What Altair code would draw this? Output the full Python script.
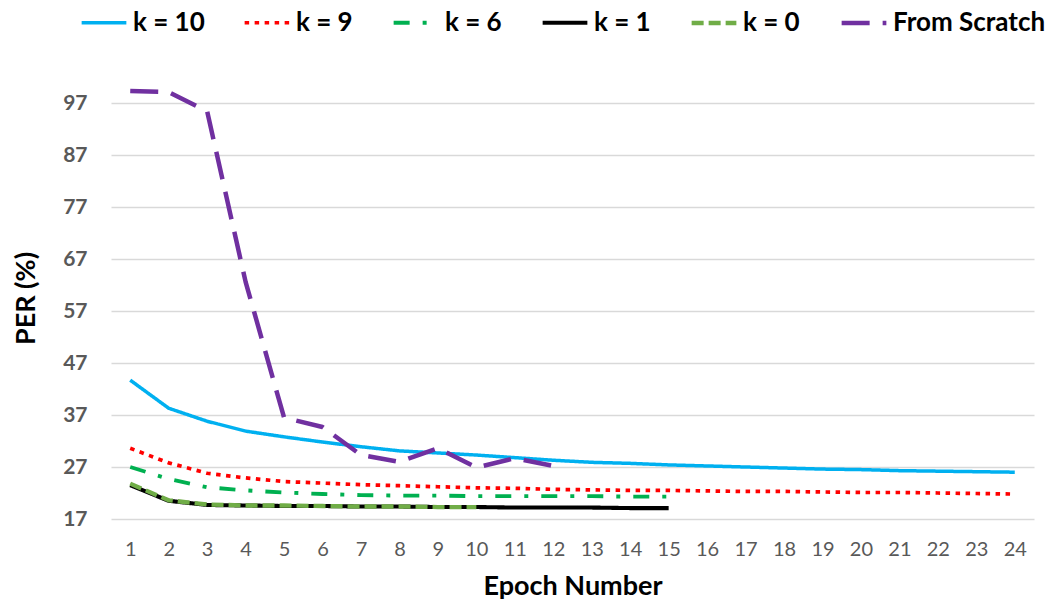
import altair as alt
import pandas as pd

epochs = list(range(1, 25))
series_names = ["k = 10", "k = 9", "k = 6", "k = 1", "k = 0", "From Scratch"]
k10 = [43.7, 38.3, 35.8, 33.9, 32.8, 31.8, 30.9, 30.1, 29.7, 29.3, 28.8, 28.3,
       27.9, 27.7, 27.4, 27.2, 27.0, 26.8, 26.6, 26.5, 26.3, 26.2, 26.1, 26.0]
k9 = [30.6, 27.8, 25.8, 24.9, 24.2, 23.9, 23.6, 23.4, 23.2, 23.0, 22.9, 22.7,
      22.6, 22.5, 22.5, 22.4, 22.3, 22.3, 22.2, 22.1, 22.1, 22.0, 21.9, 21.8]
k6 = [27.0, 24.7, 23.1, 22.5, 22.1, 21.8, 21.6, 21.5, 21.5, 21.4, 21.4, 21.4,
      21.4, 21.3, 21.3]
k1 = [23.5, 20.5, 19.7, 19.6, 19.5, 19.5, 19.4, 19.4, 19.3, 19.3, 19.2, 19.2,
      19.2, 19.1, 19.1]
k0 = [23.8, 20.6, 19.8, 19.6, 19.6, 19.5, 19.4, 19.4, 19.3, 19.3]
scratch = [99.3, 99.1, 95.4, 62.6, 36.5, 34.7, 29.3, 28.0, 30.6, 26.9, 28.7, 27.2]
y_ticks = [17, 27, 37, 47, 57, 67, 77, 87, 97]

colors = ["#00B0F0", "#FF0000", "#00B050", "#000000", "#70AD47", "#7030A0"]
dashes = [[1, 0], [4.5, 5.5], [16, 13, 4, 13], [1, 0], [12, 5], [28, 13]]
widths = [3.5, 4.5, 4, 3.5, 5, 4]

rows = []
for name, vals in zip(series_names, [k10, k9, k6, k1, k0, scratch]):
    for e, v in zip(epochs, vals):
        rows.append({"series": name, "epoch": e, "per": v})
df = pd.DataFrame(rows)

FONT = "Lato"

chart = alt.Chart(df).mark_line(strokeCap="butt", strokeJoin="round").encode(
    x=alt.X("epoch:Q",
            scale=alt.Scale(domain=[0.5, 24.5], nice=False, zero=False),
            axis=alt.Axis(values=epochs, title="Epoch Number", grid=False, domain=False,
                          ticks=False, labelPadding=20, titlePadding=14,
                          labelFont=FONT, labelFontSize=20, labelColor="#595959",
                          labelFontWeight="normal",
                          titleFont=FONT, titleFontSize=27, titleFontWeight="bold",
                          titleColor="#000000")),
    y=alt.Y("per:Q",
            scale=alt.Scale(domain=[17, 102], nice=False, zero=False),
            axis=alt.Axis(values=y_ticks, title="PER (%)", grid=True, gridColor="#D9D9D9",
                          gridWidth=1.5, domain=False, ticks=False, labelPadding=24,
                          titlePadding=22,
                          labelFont=FONT, labelFontSize=21, labelColor="#595959",
                          labelFontWeight="bold",
                          titleFont=FONT, titleFontSize=27, titleFontWeight="bold",
                          titleColor="#000000")),
    color=alt.Color("series:N", sort=series_names,
                    scale=alt.Scale(domain=series_names, range=colors),
                    legend=alt.Legend(orient="none", legendX=-32, legendY=-79,
                                      direction="horizontal", title=None,
                                      symbolType="stroke", symbolSize=2000,
                                      symbolStrokeWidth=4, labelFont=FONT,
                                      labelFontSize=26, labelFontWeight="bold",
                                      labelColor="#000000", columnPadding=32,
                                      labelOffset=4, columns=6)),
    strokeDash=alt.StrokeDash("series:N", sort=series_names,
                              scale=alt.Scale(domain=series_names, range=dashes),
                              legend=None),
    strokeWidth=alt.StrokeWidth("series:N", sort=series_names,
                                scale=alt.Scale(domain=series_names, range=widths),
                                legend=None),
).properties(
    width=923, height=442,
    autosize=alt.AutoSizeParams(type="none"),
    padding={"left": 111, "top": 77, "right": 18, "bottom": 87},
    background="white",
).configure_view(strokeWidth=0, strokeOpacity=0)

chart.save("out.html", embed_options={"renderer": "svg", "actions": False})
